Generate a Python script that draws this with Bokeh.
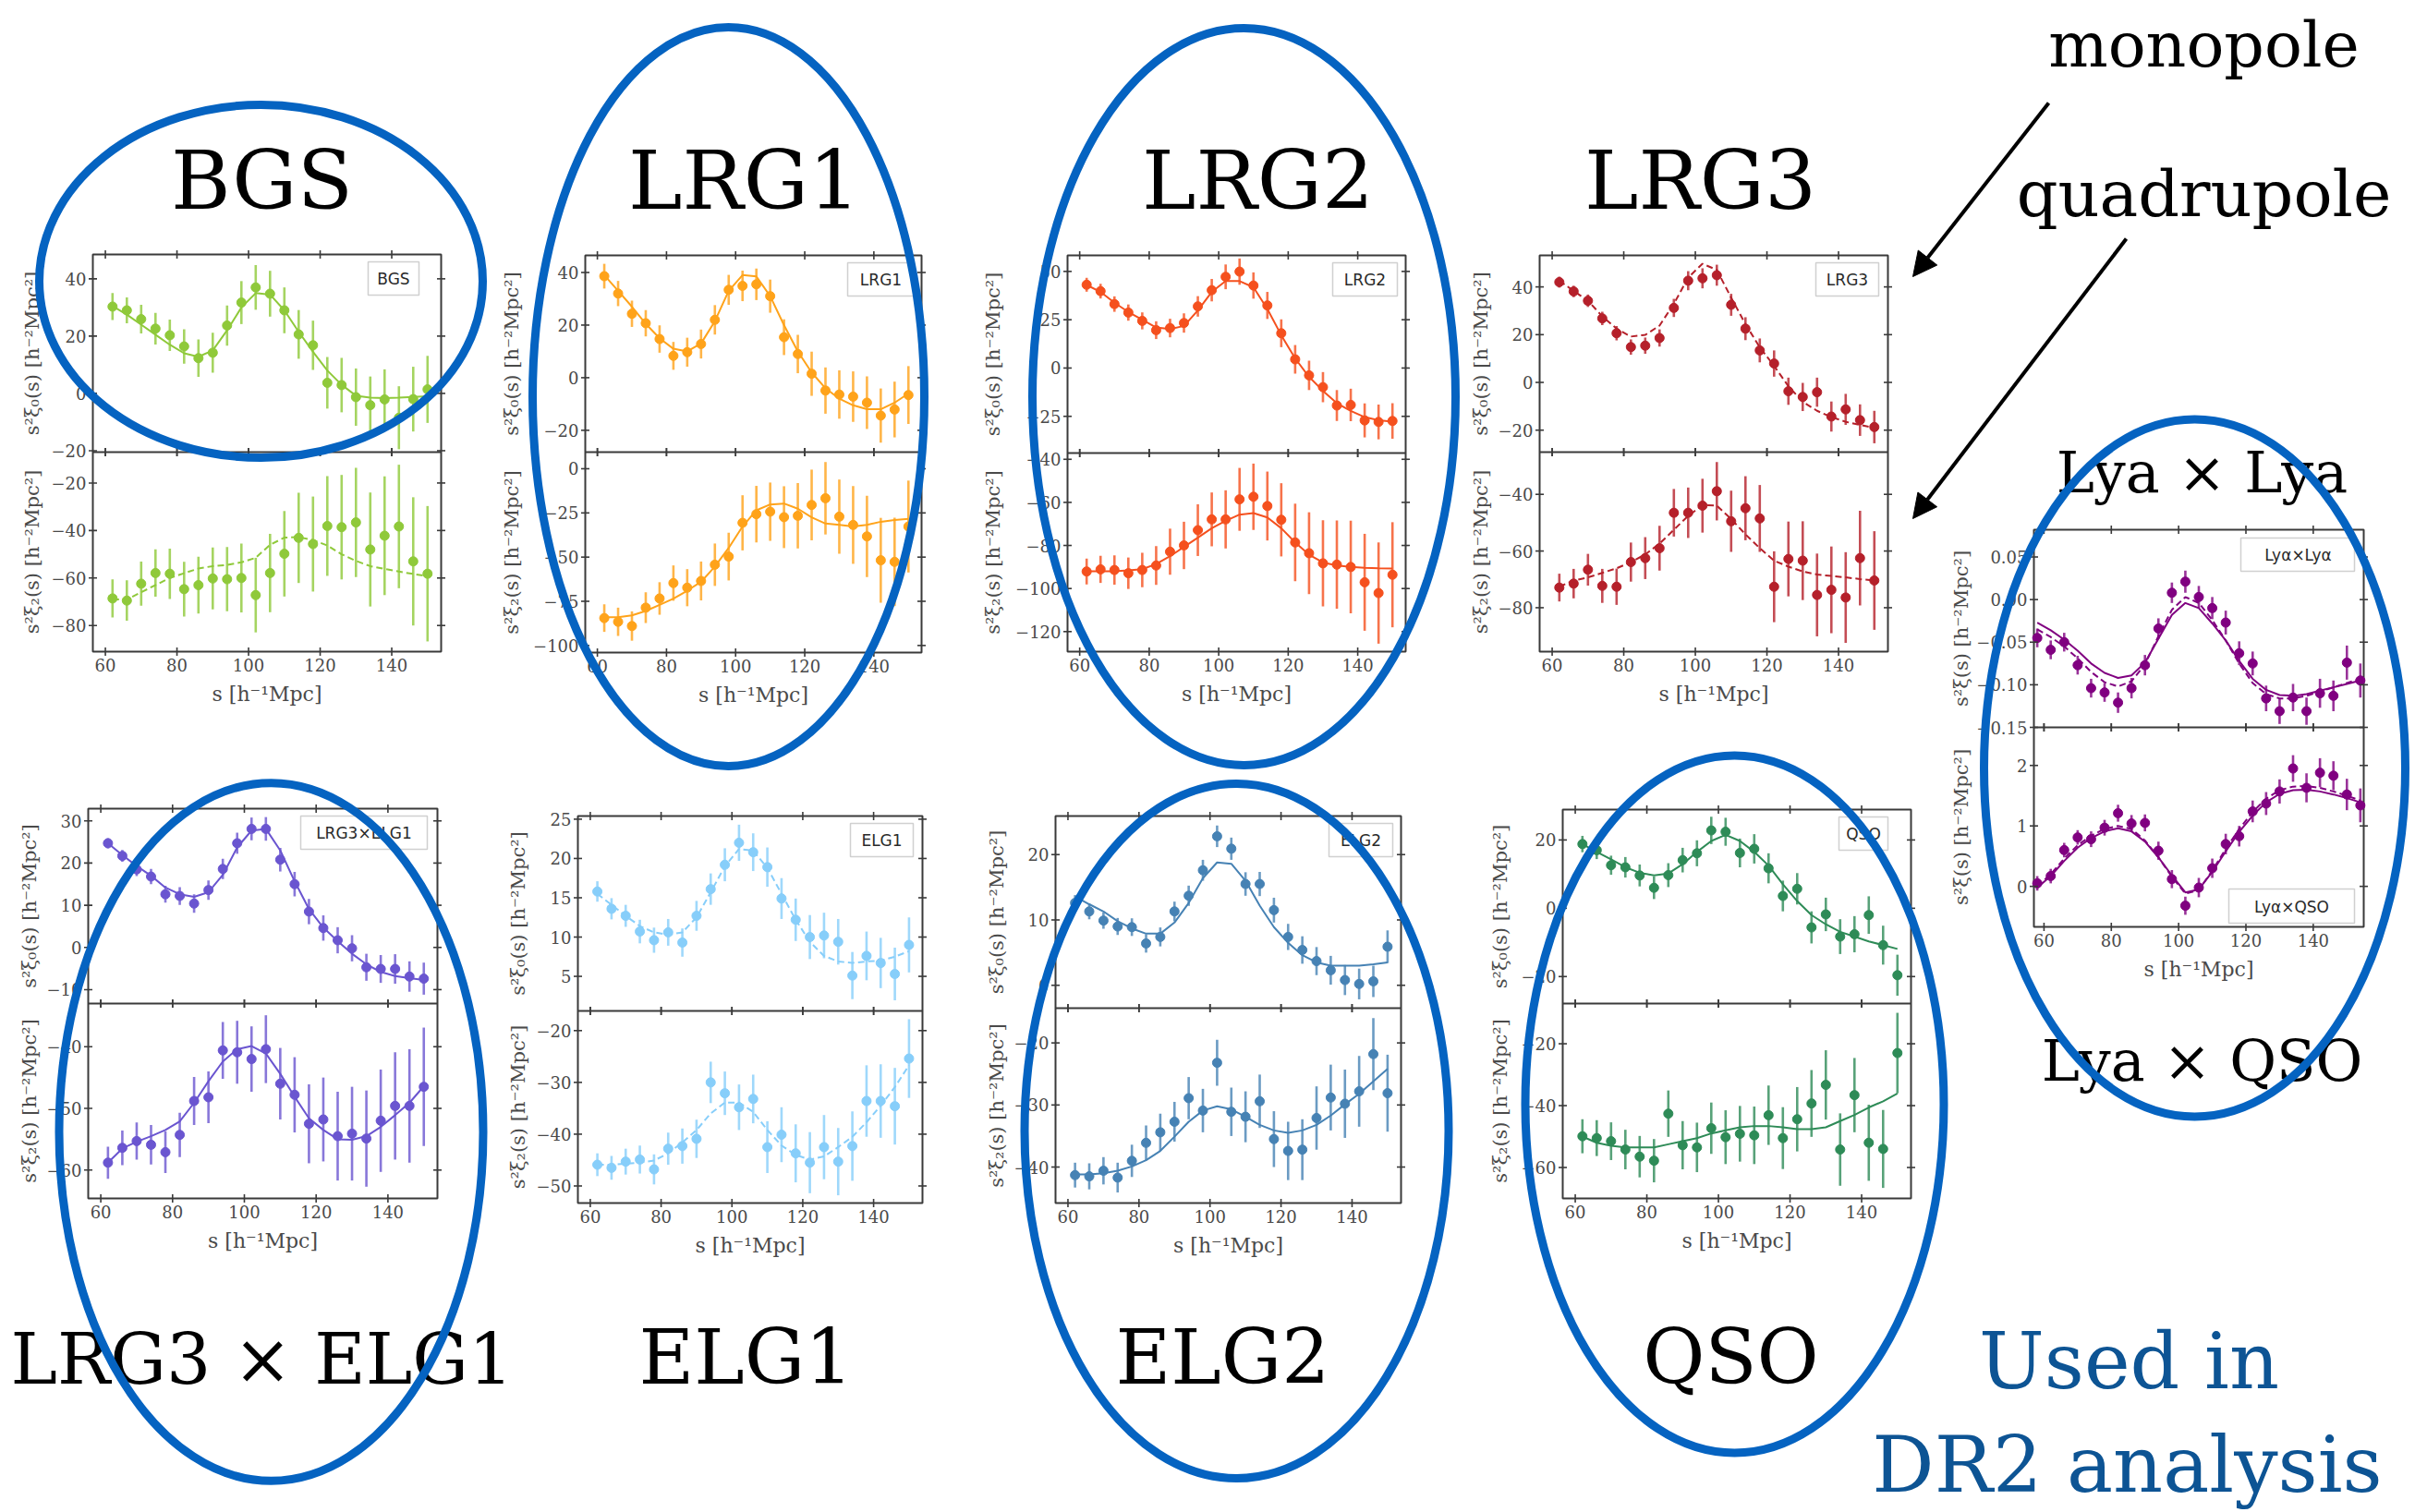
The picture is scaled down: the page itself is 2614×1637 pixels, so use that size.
import numpy as np
from bokeh.plotting import figure
from bokeh.models import Range1d, Arrow, NormalHead
from bokeh.core.properties import value
from bokeh.embed import file_html
from bokeh.resources import INLINE

# ---------------- data ----------------
S = [62, 66, 70, 74, 78, 82, 86, 90, 94, 98, 102, 106, 110, 114, 118, 122, 126, 130, 134, 138, 142, 146, 150]
S_LYA = [58, 62, 66, 70, 74, 78, 82, 86, 90, 94, 98, 102, 106, 110, 114, 118, 122, 126, 130, 134, 138, 142, 146, 150, 154]
XTICKS = [60, 80, 100, 120, 140]

BGS_XI0 = [30.3, 29.0, 25.9, 22.6, 20.3, 16.4, 12.3, 14.2, 23.7, 31.7, 37.0, 34.8, 29.0, 20.6, 16.8, 3.7, 2.9, -1.3, -4.1, -2.1, -8.5, -2.0, 1.4]
BGS_XI0_ERR = [4.7, 4.5, 5.0, 5.5, 5.5, 6.0, 6.5, 7.0, 7.0, 7.5, 7.8, 8.0, 8.0, 8.5, 8.6, 9.0, 9.5, 10.0, 10.0, 10.5, 11.0, 11.3, 11.7]
BGS_XI0_FIT = [30.5, 27.5, 24.0, 20.5, 17.0, 14.0, 12.8, 15.0, 22.0, 30.0, 35.0, 34.5, 29.0, 21.5, 14.5, 8.0, 3.0, -0.8, -1.5, -1.6, -1.5, -1.2, -1.0]
BGS_XI2 = [-68.6, -69.5, -62.4, -57.9, -58.2, -64.7, -63.0, -60.2, -60.5, -60.0, -67.2, -57.9, -49.8, -43.1, -45.7, -38.1, -38.6, -36.6, -48.0, -42.2, -38.3, -53.0, -58.2]
BGS_XI2_ERR = [8.0, 8.5, 9.3, 10.0, 10.6, 11.5, 12.0, 13.0, 13.5, 14.5, 15.7, 16.5, 18.0, 19.0, 20.0, 21.0, 22.0, 23.0, 24.0, 25.0, 26.0, 27.0, 28.5]
BGS_XI2_FIT = [-69.0, -69.0, -66.0, -63.0, -60.0, -58.0, -56.0, -55.0, -54.5, -53.4, -51.5, -46.0, -43.0, -42.8, -44.0, -46.3, -50.0, -52.8, -55.0, -56.2, -57.3, -58.3, -59.2]

LRG1_XI0 = [38.6, 32.0, 24.3, 20.7, 14.7, 8.3, 9.7, 12.8, 22.0, 33.4, 34.9, 35.5, 31.0, 15.4, 9.0, 1.5, -4.9, -6.4, -7.2, -9.5, -14.4, -12.1, -6.6]
LRG1_XI0_ERR = [4.7, 4.8, 5.0, 5.0, 5.2, 5.3, 5.5, 5.5, 5.6, 5.7, 5.8, 6.0, 6.3, 6.8, 7.3, 8.4, 8.8, 9.2, 9.6, 10.0, 10.3, 10.6, 11.0]
LRG1_XI0_FIT = [39.0, 33.0, 27.0, 20.5, 15.0, 11.0, 10.0, 13.0, 21.5, 33.0, 39.0, 38.5, 31.0, 20.0, 10.0, 2.0, -4.0, -8.0, -10.5, -12.0, -12.0, -9.5, -6.0]
LRG1_XI2 = [-84.5, -86.6, -89.0, -78.6, -73.4, -64.7, -67.3, -63.5, -54.3, -49.7, -30.6, -25.7, -24.3, -27.4, -26.6, -20.5, -16.7, -27.1, -31.8, -38.3, -51.8, -52.7, -32.7]
LRG1_XI2_ERR = [7.8, 8.0, 8.3, 8.7, 9.2, 10.0, 10.5, 11.0, 12.0, 13.5, 15.6, 16.0, 16.5, 17.5, 18.5, 20.0, 20.5, 21.0, 22.0, 23.0, 24.0, 25.0, 26.0]
LRG1_XI2_FIT = [-84.0, -84.0, -83.0, -80.5, -77.0, -73.5, -69.0, -64.0, -55.3, -44.8, -32.7, -23.5, -20.2, -19.7, -22.6, -27.5, -31.0, -31.8, -32.7, -31.8, -30.0, -29.0, -28.4]

LRG2_XI0 = [43.1, 39.8, 33.1, 28.7, 24.4, 19.6, 20.7, 23.3, 31.9, 40.3, 47.2, 49.9, 42.7, 32.4, 18.0, 4.5, -3.8, -9.9, -19.4, -19.1, -27.1, -27.9, -27.4]
LRG2_XI0_ERR = [3.6, 3.8, 4.0, 4.2, 4.4, 4.6, 4.8, 5.0, 5.3, 5.8, 6.4, 6.8, 6.8, 7.0, 7.2, 7.4, 7.6, 7.8, 8.0, 8.4, 8.8, 9.0, 9.2]
LRG2_XI0_FIT = [43.0, 39.4, 33.8, 29.0, 25.0, 21.0, 20.2, 21.8, 29.8, 39.4, 45.0, 45.0, 41.8, 30.6, 17.0, 5.0, -4.6, -11.8, -18.2, -22.2, -25.4, -27.0, -27.8]
LRG2_XI2 = [-92.1, -91.1, -91.4, -92.9, -91.4, -89.3, -82.9, -80.0, -72.9, -67.9, -67.9, -58.6, -57.4, -61.7, -68.1, -78.6, -83.6, -88.3, -88.9, -90.0, -97.1, -102.1, -93.6]
LRG2_XI2_ERR = [6.0, 6.3, 6.8, 7.3, 8.0, 9.0, 10.7, 11.0, 12.0, 12.5, 13.5, 14.6, 15.4, 16.0, 17.0, 18.0, 19.0, 20.0, 20.5, 21.5, 22.5, 23.5, 24.4]
LRG2_XI2_FIT = [-92.0, -92.0, -92.0, -91.6, -91.0, -88.6, -85.0, -80.7, -76.4, -72.0, -68.6, -65.7, -65.0, -67.0, -72.0, -78.6, -84.3, -87.9, -89.3, -90.0, -90.4, -90.6, -90.7]

LRG3_XI0 = [42.0, 38.1, 34.2, 26.8, 20.6, 14.8, 15.4, 18.6, 31.2, 42.6, 43.6, 44.9, 32.5, 22.5, 13.4, 7.9, -3.7, -6.1, -4.1, -14.3, -11.3, -15.8, -18.7]
LRG3_XI0_ERR = [2.3, 2.4, 2.6, 2.8, 3.0, 3.2, 3.4, 3.6, 3.8, 4.0, 4.2, 4.4, 4.6, 4.8, 5.0, 5.5, 5.7, 5.9, 6.1, 6.3, 6.5, 6.6, 6.8]
LRG3_XI0_FIT = [42.6, 38.3, 34.2, 27.7, 22.5, 19.2, 19.9, 23.8, 32.9, 43.9, 49.7, 47.1, 35.5, 24.4, 14.7, 6.9, -1.6, -8.1, -11.9, -14.5, -16.5, -17.8, -19.0]
LRG3_XI2 = [-72.9, -71.5, -66.6, -72.3, -72.6, -63.9, -62.5, -59.0, -46.5, -46.5, -44.0, -38.9, -49.5, -44.9, -48.5, -72.6, -62.8, -63.4, -75.5, -73.7, -76.4, -62.5, -70.4]
LRG3_XI2_ERR = [4.9, 5.2, 5.6, 6.0, 6.4, 6.9, 7.4, 7.9, 8.4, 8.9, 9.5, 10.3, 10.8, 11.3, 11.8, 12.5, 13.2, 13.9, 14.6, 15.3, 16.0, 16.7, 17.4]
LRG3_XI2_FIT = [-72.6, -70.4, -69.3, -67.7, -66.1, -63.9, -61.2, -57.4, -52.5, -47.6, -43.8, -44.0, -48.7, -54.1, -59.0, -63.4, -65.5, -67.2, -68.3, -68.8, -69.3, -69.9, -70.4]

LYA_XI = [-0.045, -0.059, -0.050, -0.077, -0.104, -0.109, -0.121, -0.104, -0.077, -0.034, 0.008, 0.021, 0.003, -0.010, -0.027, -0.063, -0.075, -0.116, -0.131, -0.115, -0.131, -0.110, -0.113, -0.074, -0.095]
LYA_XI_ERR = [0.011, 0.011, 0.011, 0.011, 0.011, 0.011, 0.012, 0.012, 0.012, 0.012, 0.012, 0.013, 0.013, 0.013, 0.014, 0.014, 0.014, 0.015, 0.015, 0.016, 0.016, 0.017, 0.018, 0.020, 0.020]
LYA_XI_FIT = [-0.027, -0.036, -0.047, -0.060, -0.075, -0.086, -0.092, -0.089, -0.074, -0.046, -0.018, -0.004, -0.010, -0.028, -0.048, -0.072, -0.093, -0.106, -0.112, -0.113, -0.111, -0.107, -0.103, -0.099, -0.095]
LYA_XI_FIT2 = [-0.035, -0.044, -0.055, -0.069, -0.085, -0.097, -0.102, -0.096, -0.076, -0.043, -0.012, 0.003, -0.004, -0.024, -0.048, -0.075, -0.098, -0.111, -0.116, -0.116, -0.113, -0.108, -0.103, -0.098, -0.093]
LYAQSO_XI = [0.05, 0.17, 0.60, 0.81, 0.78, 0.97, 1.21, 1.04, 1.05, 0.59, 0.12, -0.32, -0.02, 0.30, 0.70, 0.83, 1.24, 1.37, 1.57, 1.95, 1.63, 1.88, 1.83, 1.52, 1.34]
LYAQSO_XI_ERR = [0.12, 0.12, 0.12, 0.12, 0.13, 0.13, 0.14, 0.14, 0.14, 0.15, 0.15, 0.15, 0.16, 0.16, 0.17, 0.17, 0.18, 0.19, 0.20, 0.22, 0.24, 0.24, 0.24, 0.26, 0.28]
LYAQSO_XI_FIT = [-0.02, 0.17, 0.42, 0.64, 0.80, 0.91, 0.96, 0.91, 0.74, 0.48, 0.18, -0.10, -0.05, 0.24, 0.58, 0.90, 1.17, 1.39, 1.53, 1.59, 1.60, 1.57, 1.52, 1.46, 1.39]
LYAQSO_XI_FIT2 = [0.00, 0.20, 0.46, 0.68, 0.84, 0.95, 1.00, 0.95, 0.76, 0.48, 0.16, -0.12, -0.06, 0.26, 0.62, 0.95, 1.23, 1.45, 1.59, 1.65, 1.66, 1.63, 1.57, 1.50, 1.42]

LRG3ELG1_XI0 = [24.7, 21.7, 18.5, 16.8, 12.6, 12.2, 10.4, 13.6, 18.6, 24.7, 28.1, 28.1, 20.8, 15.0, 8.5, 4.6, 1.7, -0.2, -4.7, -5.1, -5.1, -6.9, -7.4]
LRG3ELG1_XI0_ERR = [1.2, 1.4, 1.6, 1.8, 2.0, 2.1, 2.2, 2.3, 2.4, 2.5, 2.7, 2.8, 2.8, 2.9, 3.0, 3.0, 3.1, 3.1, 3.2, 3.3, 3.5, 3.6, 3.8]
LRG3ELG1_XI0_FIT = [24.7, 21.9, 19.3, 17.0, 14.2, 12.6, 12.0, 13.1, 17.2, 23.7, 27.7, 28.1, 23.0, 15.7, 9.1, 4.7, 1.5, -1.5, -4.0, -5.8, -6.8, -7.3, -7.7]
LRG3ELG1_XI2 = [-58.8, -56.4, -55.3, -55.9, -57.1, -54.3, -48.8, -48.2, -40.6, -40.9, -42.0, -40.4, -46.0, -47.8, -52.5, -51.8, -54.5, -54.1, -54.9, -52.0, -49.6, -49.6, -46.5]
LRG3ELG1_XI2_ERR = [2.6, 2.8, 3.0, 3.2, 3.4, 3.6, 3.9, 4.2, 4.6, 5.1, 5.3, 5.5, 5.8, 6.1, 6.4, 6.8, 7.2, 7.6, 7.8, 8.3, 8.7, 9.2, 9.6]
LRG3ELG1_XI2_FIT = [-58.8, -56.5, -55.4, -54.5, -53.5, -52.1, -49.1, -45.6, -42.4, -40.4, -39.9, -41.1, -44.4, -48.1, -51.6, -53.5, -55.0, -55.1, -54.5, -53.0, -51.1, -49.1, -46.4]

ELG1_XI0 = [15.8, 13.6, 12.7, 10.7, 9.6, 10.6, 9.3, 12.7, 16.1, 19.2, 22.0, 20.8, 18.9, 14.9, 12.2, 10.0, 10.2, 9.4, 5.1, 7.6, 6.7, 5.3, 9.0]
ELG1_XI0_ERR = [1.3, 1.35, 1.4, 1.5, 1.6, 1.7, 1.8, 1.9, 2.0, 2.1, 2.3, 2.4, 2.5, 2.6, 2.7, 2.8, 2.9, 2.9, 3.0, 3.1, 3.2, 3.35, 3.5]
ELG1_XI0_FIT = [15.5, 14.1, 12.7, 11.4, 10.6, 10.3, 10.6, 12.5, 15.7, 19.0, 21.2, 21.0, 18.8, 15.5, 12.2, 9.4, 7.6, 6.9, 6.7, 6.9, 7.0, 7.5, 8.2]
ELG1_XI2 = [-45.9, -46.5, -45.3, -44.9, -46.8, -42.8, -42.3, -40.9, -30.0, -32.1, -34.8, -33.2, -42.5, -40.1, -43.7, -45.5, -42.5, -45.3, -42.3, -33.6, -33.6, -34.6, -25.4]
ELG1_XI2_ERR = [2.2, 2.3, 2.5, 2.7, 2.9, 3.1, 3.4, 3.7, 4.0, 4.2, 4.4, 4.7, 5.0, 5.3, 5.6, 5.9, 6.2, 6.5, 6.7, 6.9, 7.1, 7.4, 7.6]
ELG1_XI2_FIT = [-45.9, -45.9, -45.7, -45.5, -45.1, -43.7, -41.6, -39.2, -36.0, -33.9, -33.9, -35.7, -39.2, -42.2, -44.0, -44.9, -44.3, -42.5, -40.5, -37.7, -34.5, -30.9, -26.7]

ELG2_XI0 = [12.6, 11.3, 9.9, 9.0, 8.9, 6.4, 7.4, 11.3, 13.7, 17.6, 22.8, 20.9, 15.5, 15.5, 11.5, 7.4, 5.4, 3.7, 2.3, 0.8, 0.2, 0.6, 5.9]
ELG2_XI0_ERR = [1.2, 1.2, 1.25, 1.3, 1.35, 1.4, 1.45, 1.5, 1.55, 1.6, 1.65, 1.7, 1.8, 1.85, 1.9, 2.0, 2.1, 2.15, 2.2, 2.3, 2.35, 2.4, 2.5]
ELG2_XI0_FIT = [13.6, 12.4, 11.3, 9.8, 8.7, 7.9, 7.9, 9.6, 12.6, 16.4, 18.8, 18.6, 16.0, 12.2, 8.9, 6.5, 4.6, 3.5, 3.0, 3.0, 3.0, 3.2, 3.5]
ELG2_XI2 = [-41.3, -41.5, -40.6, -41.7, -39.0, -36.1, -34.4, -32.7, -28.9, -30.9, -23.2, -31.1, -31.9, -29.4, -35.5, -37.4, -37.2, -32.1, -28.8, -29.8, -27.8, -21.8, -28.1]
ELG2_XI2_ERR = [2.0, 2.1, 2.2, 2.4, 2.6, 2.8, 3.0, 3.2, 3.4, 3.5, 3.7, 3.9, 4.1, 4.3, 4.5, 4.7, 4.9, 5.1, 5.3, 5.5, 5.7, 5.8, 6.2]
ELG2_XI2_FIT = [-41.2, -41.2, -41.0, -40.6, -39.9, -38.9, -37.4, -35.1, -32.7, -30.9, -30.2, -30.7, -31.9, -33.2, -34.1, -34.5, -34.1, -33.2, -31.7, -29.9, -28.2, -26.2, -24.2]

QSO_XI0 = [18.8, 17.0, 12.6, 12.0, 9.6, 6.0, 9.7, 14.1, 16.1, 22.8, 22.4, 16.2, 17.4, 11.7, 3.6, 5.7, -5.6, -1.8, -8.3, -7.6, -2.0, -10.8, -19.6]
QSO_XI0_ERR = [2.4, 2.6, 2.8, 3.0, 3.2, 3.3, 3.5, 3.6, 3.8, 4.0, 4.1, 4.2, 4.3, 4.4, 4.5, 4.6, 4.7, 4.9, 5.1, 5.3, 5.5, 5.7, 6.0]
QSO_XI0_FIT = [18.8, 16.5, 14.3, 12.0, 10.4, 9.6, 10.2, 12.9, 16.5, 19.7, 21.5, 19.7, 16.5, 12.5, 7.0, 2.1, -2.0, -4.7, -6.9, -8.3, -9.7, -10.8, -11.9]
QSO_XI2 = [-49.9, -50.5, -51.5, -54.2, -56.5, -57.8, -42.6, -52.8, -53.5, -47.3, -50.2, -49.1, -49.6, -43.1, -50.5, -44.4, -39.3, -33.3, -54.2, -36.6, -52.0, -54.0, -23.0]
QSO_XI2_ERR = [5.5, 5.8, 6.1, 6.4, 6.7, 7.0, 7.5, 7.8, 8.0, 8.3, 8.7, 9.0, 9.3, 9.6, 10.0, 10.4, 10.8, 11.2, 11.7, 12.0, 12.3, 12.6, 13.0]
QSO_XI2_FIT = [-50.0, -52.0, -53.0, -53.5, -53.5, -53.5, -52.5, -51.5, -50.5, -49.0, -48.0, -47.0, -46.6, -46.6, -47.0, -47.6, -47.6, -47.0, -45.0, -43.0, -40.6, -38.6, -36.1]

# ---------------- layout / style ----------------
W, H = 2614, 1637
AX = "#3a3a3a"
TICK_TXT = "#4a4a4a"
SERIF = "DejaVu Serif"
SANS = "DejaVu Sans"
ELL = "#0563c1"
DASH = "7 4"
XR = (56.5, 153.8)
YL0 = "s²ξ₀(s) [h⁻²Mpc²]"
YL2 = "s²ξ₂(s) [h⁻²Mpc²]"
YLX = "s²ξ(s) [h⁻²Mpc²]"
BASE_SHIFT = 0.38  # em; keeps alphabetic baselines where the reference has them

PANELS = [
    dict(color="#8fc93a", box=(100, 477, 275, 489, 705), x=S, xr=XR, yoff=66,
         legend=("BGS", 55, 24), ylabels=(YL0, YL2),
         halves=[dict(y=BGS_XI0, e=BGS_XI0_ERR, fits=[(BGS_XI0_FIT, None)], yr=(-20.5, 48.5), ticks=[-20, 0, 20, 40], dec=0),
                 dict(y=BGS_XI2, e=BGS_XI2_ERR, fits=[(BGS_XI2_FIT, DASH)], yr=(-91, -7), ticks=[-80, -60, -40, -20], dec=0)]),
    dict(color="#ffa31a", box=(633, 997, 276, 489, 706), x=S, xr=XR, yoff=80,
         legend=("LRG1", 72, 8), ylabels=(YL0, YL2),
         halves=[dict(y=LRG1_XI0, e=LRG1_XI0_ERR, fits=[(LRG1_XI0_FIT, None)], yr=(-28.3, 46.5), ticks=[-20, 0, 20, 40], dec=0),
                 dict(y=LRG1_XI2, e=LRG1_XI2_ERR, fits=[(LRG1_XI2_FIT, None)], yr=(-104, 9.4), ticks=[-100, -75, -50, -25, 0], dec=0)]),
    dict(color="#f5501e", box=(1155, 1521, 276, 490, 705), x=S, xr=XR, yoff=81,
         legend=("LRG2", 70, 9), ylabels=(YL0, YL2),
         halves=[dict(y=LRG2_XI0, e=LRG2_XI0_ERR, fits=[(LRG2_XI0_FIT, None)], yr=(-44, 58.3), ticks=[-25, 0, 25, 50], dec=0),
                 dict(y=LRG2_XI2, e=LRG2_XI2_ERR, fits=[(LRG2_XI2_FIT, None)], yr=(-129.3, -37.1), ticks=[-120, -100, -80, -60, -40], dec=0)]),
    dict(color="#b5202a", box=(1666, 2043, 276, 489, 705), x=S, xr=XR, yoff=64,
         legend=("LRG3", 68, 10), ylabels=(YL0, YL2),
         halves=[dict(y=LRG3_XI0, e=LRG3_XI0_ERR, fits=[(LRG3_XI0_FIT, DASH)], yr=(-29.2, 53.2), ticks=[-20, 0, 20, 40], dec=0),
                 dict(y=LRG3_XI2, e=LRG3_XI2_ERR, fits=[(LRG3_XI2_FIT, DASH)], yr=(-95.5, -25.1), ticks=[-80, -60, -40], dec=0)]),
    dict(color="#800080", box=(2201, 2558, 573, 787, 1003), x=S_LYA, xr=(57, 155), yoff=79,
         legend=None, ylabels=(YLX, YLX),
         halves=[dict(y=LYA_XI, e=LYA_XI_ERR, fits=[(LYA_XI_FIT, None), (LYA_XI_FIT2, DASH)], yr=(-0.15, 0.082), ticks=[-0.15, -0.10, -0.05, 0.0, 0.05], dec=2),
                 dict(y=LYAQSO_XI, e=LYAQSO_XI_ERR, fits=[(LYAQSO_XI_FIT, None), (LYAQSO_XI_FIT2, DASH)], yr=(-0.67, 2.63), ticks=[0, 1, 2], dec=0)]),
    dict(color="#6a55d0", box=(95, 473, 875, 1086, 1297), x=S, xr=XR, yoff=64,
         legend=("LRG3×ELG1", 137, 11), ylabels=(YL0, YL2),
         halves=[dict(y=LRG3ELG1_XI0, e=LRG3ELG1_XI0_ERR, fits=[(LRG3ELG1_XI0_FIT, None)], yr=(-13.3, 32.9), ticks=[-10, 0, 10, 20, 30], dec=0),
                 dict(y=LRG3ELG1_XI2, e=LRG3ELG1_XI2_ERR, fits=[(LRG3ELG1_XI2_FIT, None)], yr=(-64.6, -33.0), ticks=[-60, -50, -40], dec=0)]),
    dict(color="#87cefa", box=(625, 998, 883, 1094, 1302), x=S, xr=XR, yoff=65,
         legend=("ELG1", 68, 10), ylabels=(YL0, YL2),
         halves=[dict(y=ELG1_XI0, e=ELG1_XI0_ERR, fits=[(ELG1_XI0_FIT, DASH)], yr=(0.6, 25.4), ticks=[5, 10, 15, 20, 25], dec=0),
                 dict(y=ELG1_XI2, e=ELG1_XI2_ERR, fits=[(ELG1_XI2_FIT, DASH)], yr=(-53.3, -16.2), ticks=[-50, -40, -30, -20], dec=0)]),
    dict(color="#4682b4", box=(1142, 1516, 883, 1091, 1302), x=S, xr=XR, yoff=64,
         legend=("ELG2", 69, 9), ylabels=(YL0, YL2),
         halves=[dict(y=ELG2_XI0, e=ELG2_XI0_ERR, fits=[(ELG2_XI0_FIT, None)], yr=(-3.5, 25.9), ticks=[0, 10, 20], dec=0),
                 dict(y=ELG2_XI2, e=ELG2_XI2_ERR, fits=[(ELG2_XI2_FIT, None)], yr=(-45.8, -14.4), ticks=[-40, -30, -20], dec=0)]),
    dict(color="#2e8b57", box=(1691, 2068, 876, 1086, 1297), x=S, xr=XR, yoff=68,
         legend=("QSO", 53, 25), ylabels=(YL0, YL2),
         halves=[dict(y=QSO_XI0, e=QSO_XI0_ERR, fits=[(QSO_XI0_FIT, None)], yr=(-27.9, 28.9), ticks=[-20, 0, 20], dec=0),
                 dict(y=QSO_XI2, e=QSO_XI2_ERR, fits=[(QSO_XI2_FIT, None)], yr=(-70, -7), ticks=[-60, -40, -20], dec=0)]),
]

p = figure(width=W, height=H, x_range=Range1d(0, W), y_range=Range1d(H, 0),
           output_backend="svg", toolbar_location=None, min_border=0,
           x_axis_location=None, y_axis_location=None)
p.grid.visible = False
p.outline_line_color = None
p.background_fill_color = "white"
p.border_fill_color = "white"


def ptext(x, y, t, size, color="black", font=SERIF, align="center", baseline="alphabetic", angle=0.0):
    if baseline == "alphabetic":
        y = y - BASE_SHIFT * size
    p.text(x=[x], y=[y], text=[t], text_font=value(font), text_font_size=f"{size}px",
           text_color=color, text_align=align, text_baseline=baseline, angle=angle)


def fmt(v, dec):
    s = f"{v:.{dec}f}"
    return s.replace("-", "−")


def draw_half(cfg, half, top_px, bot_px, show_x):
    L, R = cfg["box"][0], cfg["box"][1]
    c = cfg["color"]
    xs = np.array(cfg["x"], dtype=float)
    x0, x1 = cfg["xr"]
    y0, y1 = half["yr"]
    sub = p.subplot(x_source=Range1d(x0, x1), y_source=Range1d(y0, y1),
                    x_target=Range1d(L, R), y_target=Range1d(bot_px, top_px))
    y = np.array(half["y"], dtype=float)
    e = np.array(half["e"], dtype=float)
    lo = np.clip(y - e, y0, y1)
    hi = np.clip(y + e, y0, y1)
    sub.segment(x0=xs, y0=lo, x1=xs, y1=hi, line_color=c, line_width=2.6, line_alpha=0.8)
    for fit, dash in half["fits"]:
        sub.line(xs, fit, line_color=c, line_width=2.0, line_dash=dash if dash else "solid")
    sub.scatter(xs, y, size=10, fill_color=c, line_color=c)
    ticks = half["ticks"]
    n = len(ticks)
    for xe in (x0, x1):
        sub.scatter(x=[xe] * n, y=ticks, marker="dash", size=9, line_color=AX, line_width=1.6)
    for ye in (y0, y1):
        sub.scatter(x=XTICKS, y=[ye] * len(XTICKS), marker="dash", angle=np.pi / 2,
                    size=9, line_color=AX, line_width=1.6)
    sub.text(x=[x0] * n, y=ticks, text=[fmt(t, half["dec"]) for t in ticks],
             x_offset=-7, text_align="right", text_baseline="middle",
             text_font=value(SERIF), text_font_size="18px", text_color=TICK_TXT)
    if show_x:
        sub.text(x=XTICKS, y=[y0] * len(XTICKS), text=[str(t) for t in XTICKS],
                 y_offset=7, text_align="center", text_baseline="top",
                 text_font=value(SERIF), text_font_size="18px", text_color=TICK_TXT)


for cfg in PANELS:
    L, R, T, M, B = cfg["box"]
    p.quad(left=[L], right=[R], top=[T], bottom=[B], fill_color=None, line_color=AX, line_width=2)
    p.segment(x0=[L], y0=[M], x1=[R], y1=[M], line_color=AX, line_width=2)
    draw_half(cfg, cfg["halves"][0], T, M, False)
    draw_half(cfg, cfg["halves"][1], M, B, True)
    ptext(L - cfg["yoff"], (T + M) / 2, cfg["ylabels"][0], 21, color=TICK_TXT,
          baseline="middle", angle=np.pi / 2)
    ptext(L - cfg["yoff"], (M + B) / 2, cfg["ylabels"][1], 21, color=TICK_TXT,
          baseline="middle", angle=np.pi / 2)
    ptext((L + R) / 2, B + 46, "s [h⁻¹Mpc]", 22, color=TICK_TXT, baseline="middle")
    if cfg["legend"] is not None:
        txt, w, inset = cfg["legend"]
        lr = R - inset
        p.quad(left=[lr - w], right=[lr], top=[T + 8], bottom=[T + 44],
               fill_color="white", line_color="#d0d0d0", line_width=1.5)
        ptext(lr - w / 2, T + 26, txt, 17, color="#2a2a2a", font=SANS, baseline="middle")

# Lya legends (two boxes)
LYA = PANELS[4]
L, R, T, M, B = LYA["box"]
p.quad(left=[R - 133], right=[R - 10], top=[T + 9], bottom=[T + 45],
       fill_color="white", line_color="#d0d0d0", line_width=1.5)
ptext(R - 71, T + 27, "Lyα×Lyα", 17, color="#2a2a2a", font=SANS, baseline="middle")
p.quad(left=[R - 146], right=[R - 10], top=[B - 41], bottom=[B - 4],
       fill_color="white", line_color="#d0d0d0", line_width=1.5)
ptext(R - 78, B - 22, "Lyα×QSO", 17, color="#2a2a2a", font=SANS, baseline="middle")

# ---------------- big annotation texts ----------------
for (x, t) in [(283, "BGS"), (805, "LRG1"), (1361, "LRG2"), (1840, "LRG3")]:
    ptext(x, 228, t, 88)
ptext(283, 1500, "LRG3 × ELG1", 76)
for (x, t) in [(807, "ELG1"), (1323, "ELG2"), (1873, "QSO")]:
    ptext(x, 1500, t, 82)
ptext(2385, 74, "monopole", 68)
ptext(2385, 236, "quadrupole", 70)
ptext(2383, 535, "Lya × Lya", 62)
ptext(2383, 1172, "Lya × QSO", 62)
ptext(2304, 1505, "Used in", 84, color="#0d5494")
ptext(2302, 1617, "DR2 analysis", 84, color="#0d5494")

# arrows
for (xs_, ys_, xe_, ye_) in [(2217, 111, 2070, 299), (2301, 258, 2070, 561)]:
    p.add_layout(Arrow(end=NormalHead(size=26, fill_color="black", line_color="black"),
                       x_start=xs_, y_start=ys_, x_end=xe_, y_end=ye_,
                       line_width=4, line_color="black"))

# ellipses
ELLIPSES = [(282, 304, 480, 382), (788, 429, 424, 800), (1346, 429, 458, 798),
            (2375, 831, 456, 755), (293, 1225, 459, 756), (1338, 1224, 459, 752),
            (1877, 1195, 453, 755)]
p.ellipse(x=[e[0] for e in ELLIPSES], y=[e[1] for e in ELLIPSES],
          width=[e[2] for e in ELLIPSES], height=[e[3] for e in ELLIPSES],
          fill_color=None, line_color=ELL, line_width=9)

open("out.html", "w").write(file_html(p, INLINE))
